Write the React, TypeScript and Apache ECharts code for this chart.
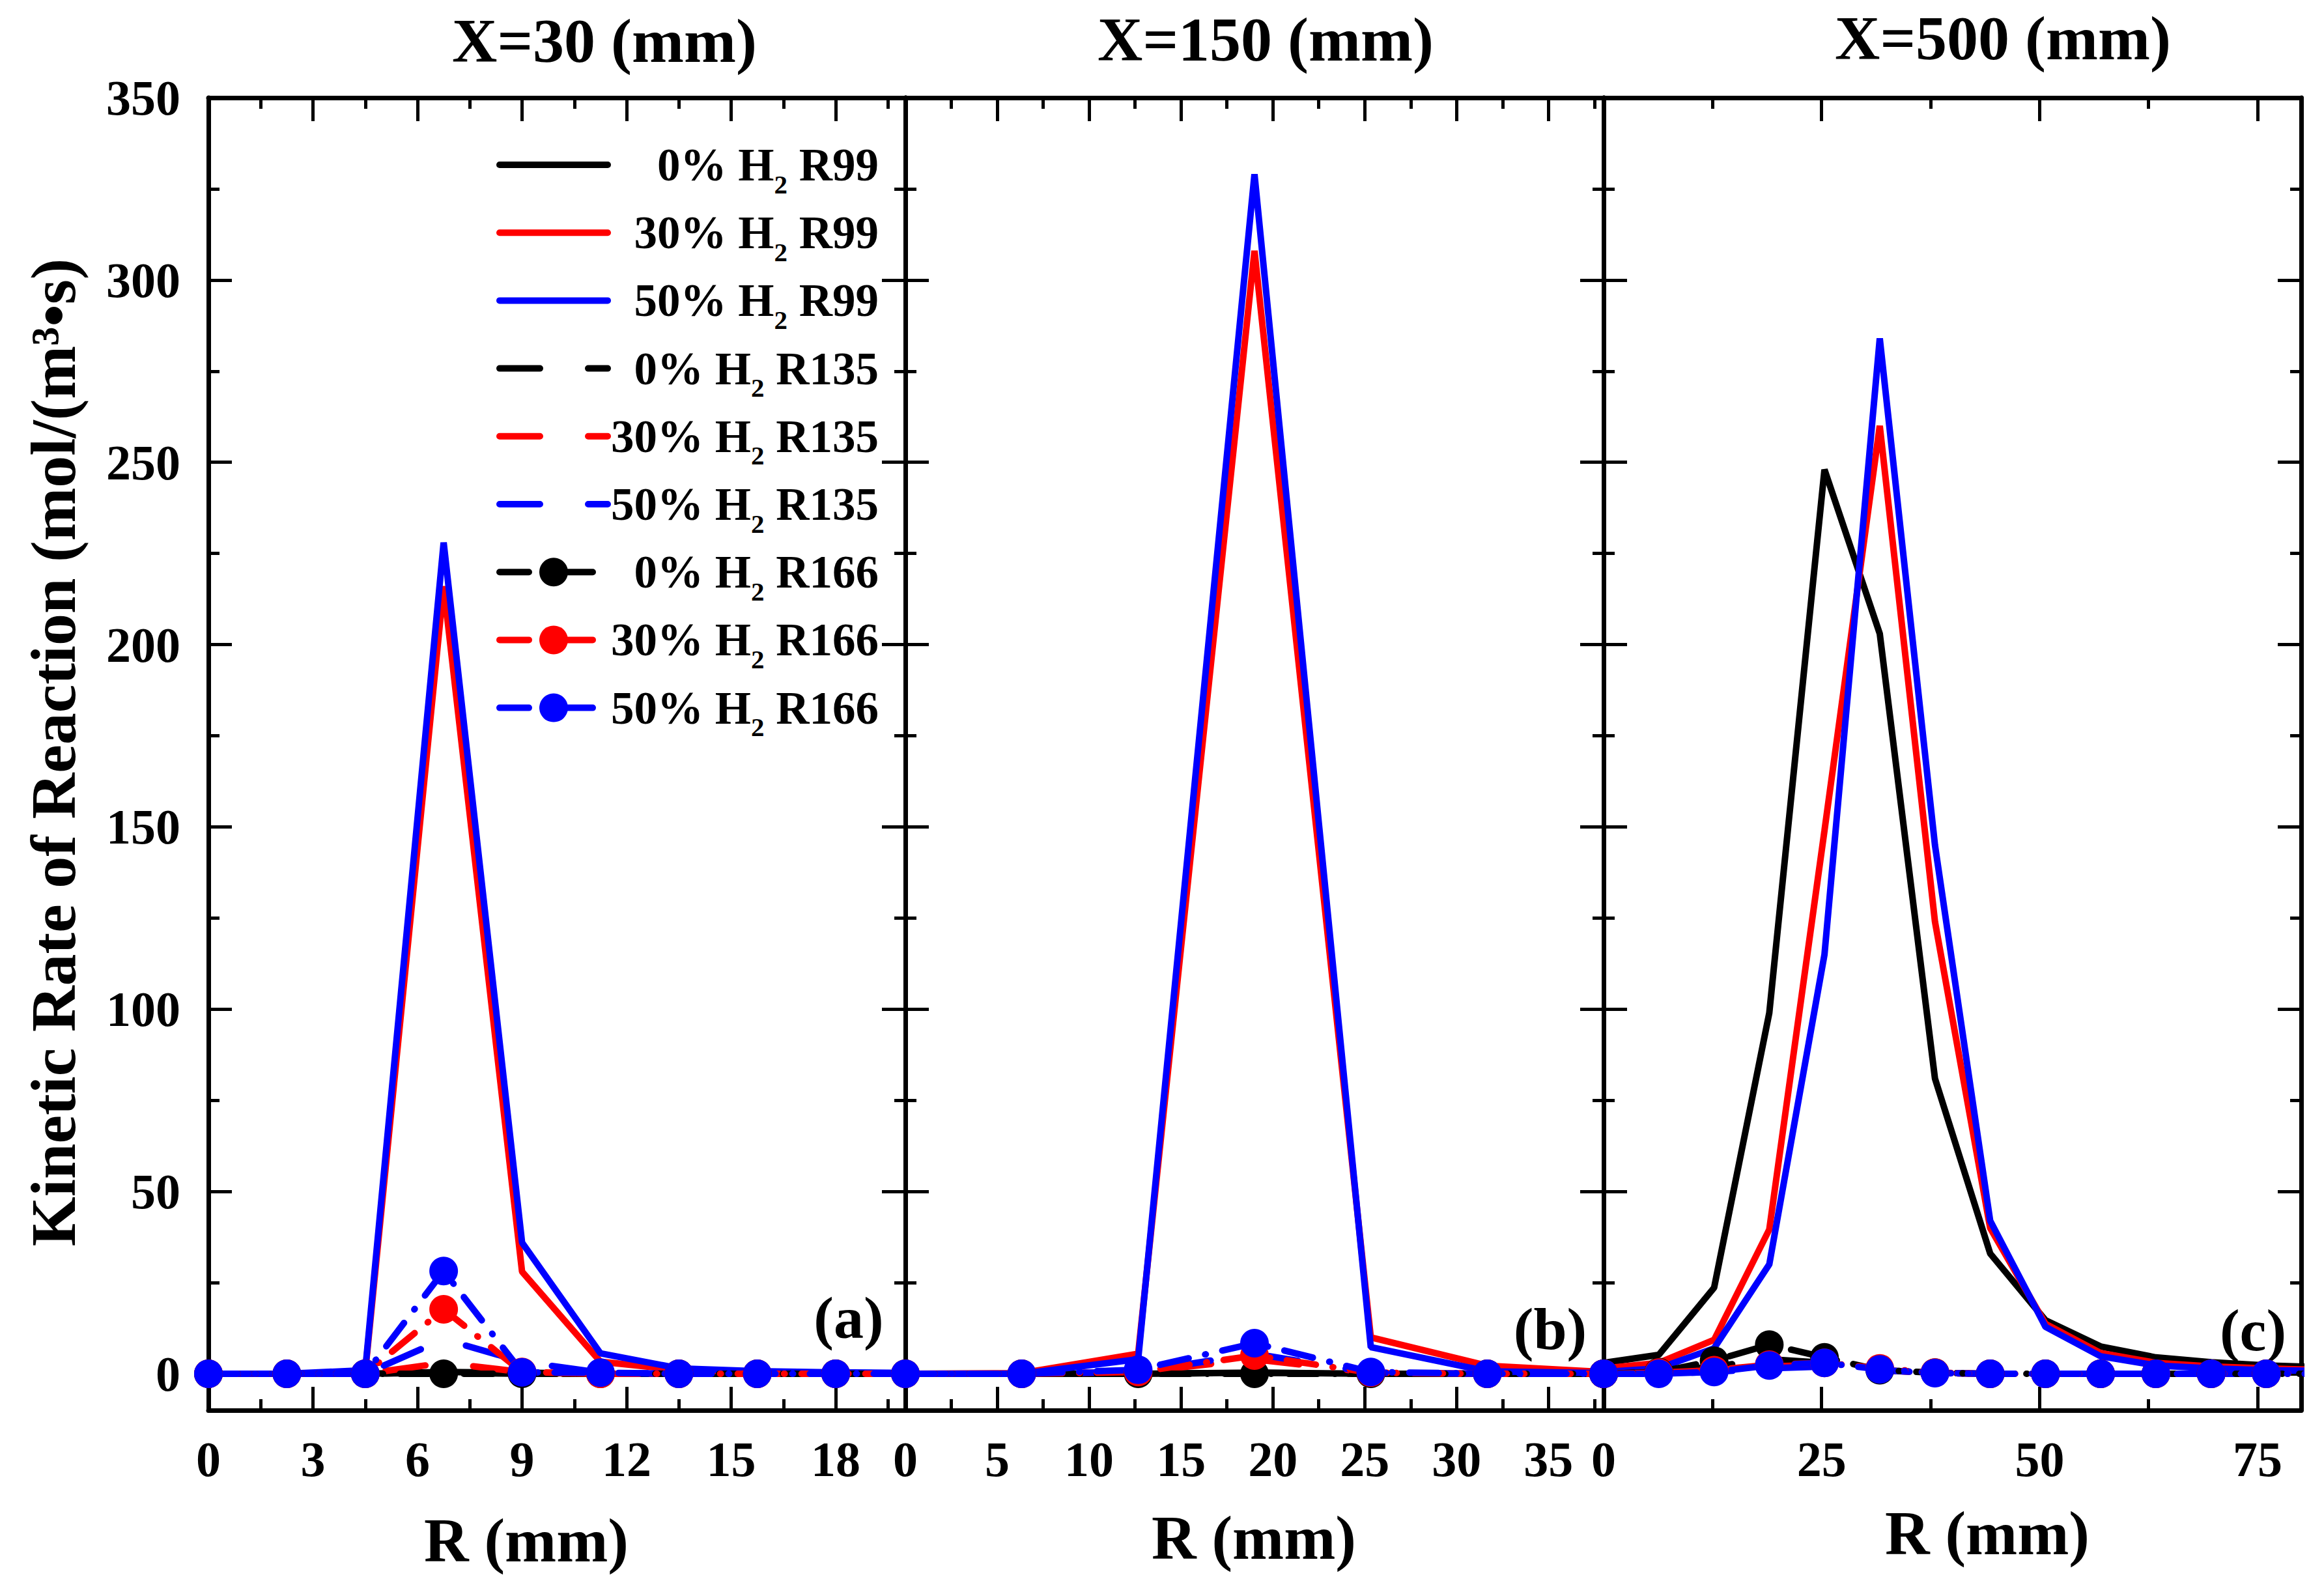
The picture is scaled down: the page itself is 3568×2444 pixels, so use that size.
import React, { useEffect, useRef } from "react";
import * as echarts from "echarts";

// ---------- data ----------
const rA = [0, 2.25, 4.5, 6.75, 9, 11.25, 13.5, 15.75, 18, 20.25];
const rB = [0, 6.33, 12.67, 19, 25.33, 31.67, 38];
const rC = [0, 6.33, 12.67, 19, 25.33, 31.67, 38, 44.33, 50.67, 57, 63.33, 69.67, 76, 82.33];

// panel (a) X=30 mm
const aR99_0 = [0, 0, 0, 0.5, 0.3, 0, 0, 0, 0, 0];
const aR99_30 = [0, 0, 0.5, 216, 28, 3.3, 1.1, 0.5, 0.2, 0];
const aR99_50 = [0, 0, 1, 228, 36, 5.6, 1.5, 0.7, 0.4, 0.2];
const aR135_0 = [0, 0, 0, 0.3, 0, 0, 0, 0, 0, 0];
const aR135_30 = [0, 0, 0, 3, 0.5, 0, 0, 0, 0, 0];
const aR135_50 = [0, 0, 0, 9.5, 3.3, 0.3, 0, 0, 0, 0];
const aR166_0 = [0, 0, 0, 0, 0, 0, 0, 0, 0, 0];
const aR166_30 = [0, 0, 0, 17.7, 0.5, 0, 0, 0, 0, 0];
const aR166_50 = [0, 0, 0, 28.2, 0.4, 0.3, 0, 0, 0, 0];

// panel (b) X=150 mm
const bR99_0 = [0, 0, 0, 0.3, 0, 0, 0];
const bR99_30 = [0, 0.2, 5.5, 308, 10, 2.2, 0.5];
const bR99_50 = [0, 0, 4, 329, 7.3, 0.7, 0.2];
const bR135_0 = [0, 0, 0, 0.3, 0, 0, 0];
const bR135_30 = [0, 0, 0.5, 4, 0.3, 0, 0];
const bR135_50 = [0, 0, 0.5, 5.5, 0.3, 0, 0];
const bR166_0 = [0, 0, 0, 0, 0, 0, 0];
const bR166_30 = [0, 0, 0.5, 5, 0.3, 0, 0];
const bR166_50 = [0, 0, 1.1, 8.4, 0.5, 0, 0];

// panel (c) X=500 mm
const cR99_0 = [3, 5.2, 23.6, 99, 248, 203, 81, 33, 14.7, 7.5, 4.5, 3.2, 2.3, 1.8];
const cR99_30 = [1.5, 3, 9.3, 39.6, 149, 260, 124, 40, 13.7, 5.7, 3, 2, 1.5, 1];
const cR99_50 = [0.5, 1.5, 7, 30, 115, 284, 145, 42, 12.9, 4.8, 2.3, 1.5, 1, 0.8];
const cR135_0 = [0, 0.5, 2, 4, 3, 1, 0.3, 0, 0, 0, 0, 0, 0, 0];
const cR135_30 = [0, 0.3, 1, 2, 2.5, 1, 0.2, 0, 0, 0, 0, 0, 0, 0];
const cR135_50 = [0, 0, 0.5, 1.5, 2, 1, 0.2, 0, 0, 0, 0, 0, 0, 0];
const cR166_0 = [0, 0.5, 3.6, 8, 4.5, 1, 0.3, 0, 0, 0, 0, 0, 0, 0];
const cR166_30 = [0, 0.3, 1, 2.5, 3, 1.5, 0.3, 0, 0, 0, 0, 0, 0, 0];
const cR166_50 = [0, 0, 0.5, 2.3, 3, 1.2, 0.2, 0, 0, 0, 0, 0, 0, 0];

const seriesNames = [
  "0% H₂ R99", "30% H₂ R99", "50% H₂ R99",
  "0% H₂ R135", "30% H₂ R135", "50% H₂ R135",
  "0% H₂ R166", "30% H₂ R166", "50% H₂ R166",
];
const panelTitles = ["X=30 (mm)", "X=150 (mm)", "X=500 (mm)"];
const panelLabels = ["(a)", "(b)", "(c)"];
const xAxisTitle = "R (mm)";
const yAxisTitle = "Kinetic Rate of Reaction (mol/(m³•s)";
const xMax = [20, 38, 80];
const xMajor = [3, 5, 25];
const xMinor = [1.5, 2.5, 12.5];
const yMin = -10;
const yMax = 350;
const yMajor = 50;
const yMinor = 25;

const panelR = [rA, rB, rC];
const panelVals = [
  [aR99_0, aR99_30, aR99_50, aR135_0, aR135_30, aR135_50, aR166_0, aR166_30, aR166_50],
  [bR99_0, bR99_30, bR99_50, bR135_0, bR135_30, bR135_50, bR166_0, bR166_30, bR166_50],
  [cR99_0, cR99_30, cR99_50, cR135_0, cR135_30, cR135_50, cR166_0, cR166_30, cR166_50],
];

// ---------- styling ----------
const FONT = '"Liberation Serif", "Times New Roman", serif';
const COLORS = ["#000000", "#ff0000", "#0000ff"];
const DASH: any[] = ["solid", [62, 74], [45, 26, 1, 26]];
const grids = [
  { left: 320, top: 150, width: 1070, height: 2015 },
  { left: 1390, top: 150, width: 1072, height: 2015 },
  { left: 2462, top: 150, width: 1071, height: 2015 },
];

function buildOption() {
  const ctx = document.createElement("canvas").getContext("2d") as CanvasRenderingContext2D;
  const measure = (t: string, size: number) => {
    ctx.font = `bold ${size}px ${FONT}`;
    return ctx.measureText(t).width;
  };
  const LF = 71;
  const SF = 41;
  const LH = 100;
  const spaceW = measure(" ", LF);
  const widths = seriesNames.map((n) => {
    const [pre, suf] = n.split("₂");
    return measure(pre, LF) + measure("2", SF) + spaceW + measure(suf.trim(), LF);
  });
  const maxW = Math.max(...widths);
  const rich: any = {
    a: { fontSize: LF, fontWeight: "bold", fontFamily: FONT, color: "#000", lineHeight: LH, height: LH },
    s: { fontSize: SF, fontWeight: "bold", fontFamily: FONT, color: "#000", lineHeight: SF, verticalAlign: "bottom" },
    g: { width: spaceW, lineHeight: LH },
  };
  widths.forEach((w, i) => {
    rich["p" + i] = { width: Math.max(0.01, maxW - w), lineHeight: LH };
  });

  const lineOn = { show: true, onZero: false, lineStyle: { color: "#000", width: 7 } };
  const lineOff = { show: false, onZero: false };
  const tickMajor = { show: true, inside: true, length: 36, lineStyle: { color: "#000", width: 5 } };
  const tickMinor = { show: true, inside: true, length: 17, lineStyle: { color: "#000", width: 5 } };

  const xAxes: any[] = [];
  const yAxes: any[] = [];
  for (let p = 0; p < 3; p++) {
    const mx = xMax[p];
    const baseX = { type: "value", gridIndex: p, min: 0, max: mx, splitLine: { show: false } };
    xAxes.push({
      ...baseX, position: "bottom", interval: xMajor[p],
      axisLine: lineOn, axisTick: tickMajor,
      axisLabel: {
        show: true, margin: 37, color: "#000", fontSize: 76, fontWeight: "bold", fontFamily: FONT,
        formatter: (v: number) => (v >= mx - 1e-9 ? "" : String(v)),
      },
    });
    xAxes.push({ ...baseX, position: "bottom", interval: xMinor[p], axisLine: lineOff, axisTick: tickMinor, axisLabel: { show: false } });
    xAxes.push({ ...baseX, position: "top", interval: xMajor[p], axisLine: lineOn, axisTick: tickMajor, axisLabel: { show: false } });
    xAxes.push({ ...baseX, position: "top", interval: xMinor[p], axisLine: lineOff, axisTick: tickMinor, axisLabel: { show: false } });

    const baseY = { type: "value", gridIndex: p, min: yMin, max: yMax, splitLine: { show: false } };
    yAxes.push({
      ...baseY, position: "left", minInterval: yMajor, maxInterval: yMajor,
      axisLine: lineOn, axisTick: tickMajor,
      axisLabel: {
        show: p === 0, margin: 43, color: "#000", fontSize: 76, fontWeight: "bold", fontFamily: FONT,
        formatter: (v: number) => (v < 0 ? "" : String(v)),
      },
    });
    yAxes.push({ ...baseY, position: "left", minInterval: yMinor, maxInterval: yMinor, axisLine: lineOff, axisTick: tickMinor, axisLabel: { show: false } });
    yAxes.push({ ...baseY, position: "right", minInterval: yMajor, maxInterval: yMajor, axisLine: lineOn, axisTick: tickMajor, axisLabel: { show: false } });
    yAxes.push({ ...baseY, position: "right", minInterval: yMinor, maxInterval: yMinor, axisLine: lineOff, axisTick: tickMinor, axisLabel: { show: false } });
  }

  const series: any[] = [];
  for (let p = 0; p < 3; p++) {
    const r = panelR[p];
    panelVals[p].forEach((vals, i) => {
      const group = Math.floor(i / 3);
      const color = COLORS[i % 3];
      series.push({
        type: "line",
        name: seriesNames[i],
        xAxisIndex: 4 * p,
        yAxisIndex: 4 * p,
        data: r.map((x, k) => [x, vals[k]]),
        symbol: group === 2 ? "circle" : "none",
        showSymbol: group === 2,
        symbolSize: 44,
        clip: true,
        silent: true,
        lineStyle: { color, width: 10, type: DASH[group], cap: "round" },
        itemStyle: { color },
      });
    });
  }

  const txt = (text: string, x: number, y: number, size: number, rotation = 0) => ({
    type: "text", x, y, rotation, silent: true,
    style: { text, fill: "#000", font: `bold ${size}px ${FONT}`, align: "center", verticalAlign: "middle" },
  });

  const graphic = [
    txt(panelTitles[0], 928, 62, 96),
    txt(panelTitles[1], 1943, 60, 96),
    txt(panelTitles[2], 3075, 58, 96),
    txt(xAxisTitle, 808, 2365, 95),
    txt(xAxisTitle, 1925, 2361, 95),
    txt(xAxisTitle, 3051, 2354, 95),
    txt(panelLabels[0], 1303, 2023, 92),
    txt(panelLabels[1], 2380, 2040, 92),
    txt(panelLabels[2], 3459, 2042, 92),
    txt(yAxisTitle, 82, 1155, 98, Math.PI / 2),
  ];

  return {
    animation: false,
    backgroundColor: "#ffffff",
    grid: grids,
    xAxis: xAxes,
    yAxis: yAxes,
    legend: {
      orient: "vertical",
      left: 762,
      top: 203,
      padding: 0,
      itemGap: 4.2,
      itemWidth: 166,
      itemHeight: 55,
      selectedMode: false,
      lineStyle: { width: 10 },
      data: seriesNames.map((n, i) => (i < 6 ? { name: n, itemStyle: { opacity: 0 } } : { name: n })),
      formatter: (name: string) => {
        const i = seriesNames.indexOf(name);
        const [pre, suf] = name.split("₂");
        return `{p${i}|}{a|${pre}}{s|2}{g|}{a|${suf.trim()}}`;
      },
      textStyle: { fontSize: LF, fontWeight: "bold", fontFamily: FONT, color: "#000", lineHeight: LH, rich },
    },
    graphic,
    series,
  };
}

export default function App() {
  const ref = useRef<HTMLDivElement>(null);
  useEffect(() => {
    document.body.style.margin = "0";
    if (!ref.current) return;
    const chart = echarts.init(ref.current, null, { renderer: "svg" });
    chart.setOption(buildOption() as any);
    return () => chart.dispose();
  }, []);
  return <div ref={ref} style={{ width: 3568, height: 2444, background: "#fff" }} />;
}
